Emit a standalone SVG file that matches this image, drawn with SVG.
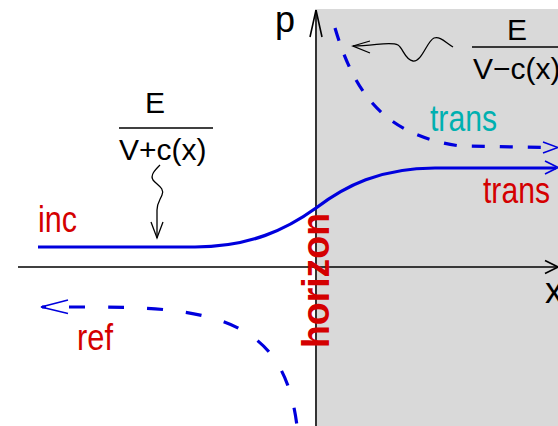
<svg xmlns="http://www.w3.org/2000/svg" width="558" height="426" viewBox="0 0 558 426">
<style>
text{font-family:"Liberation Sans",Arial,sans-serif;font-size:30px}
.lbl{font-size:37px}
.red{fill:#d40000}
.teal{fill:#00b0b0}
.blk{fill:#000}
.axis{stroke:#000;stroke-width:1.6;fill:none}
.thin{stroke:#000;stroke-width:1.3;fill:none}
.solid{stroke:#0000dd;stroke-width:3.2;fill:none}
.dash{stroke:#0000dd;stroke-width:3.2;fill:none}
.head{stroke:#0000dd;stroke-width:1.6;fill:none}
.frac{stroke:#000;stroke-width:1.5}
</style>
<rect id="region" x="317" y="9" width="241" height="417" fill="#d9d9d9"/>
<g id="axes">
<path class="axis" d="M18,267 L558,267"/>
<path class="axis" d="M545,260.5 L558,267 L545,273.5"/>
<path class="axis" d="M316,426 L316,10"/>
<path class="axis" d="M310,37 L316,10 L322,37"/>
<text x="275" y="32" class="blk" style="font-size:36px">p</text>
<text x="545" y="303" class="blk" style="font-size:36px">x</text>
</g>
<g id="connectors">
<path class="solid" d="M38,247 L195,247 C250,247 287,229 316,208 C345,186 380,168 435,168 L556,168"/>
<path class="head" d="M545,161 L558,167.5 L545,174"/>
<path class="dash" stroke-dasharray="13 15" d="M335,28 C355,95 385,135 460,146 L545,147.5"/>
<path class="head" d="M543,142 L558,147.5 L543,153"/>
<path class="dash" stroke-dasharray="16 23" stroke-dashoffset="-27" d="M42,307 L100,307 C230,307 285,330 297,426"/>
<path class="head" d="M68,300 L41,307 L68,313.5"/>
<path class="thin" d="M160,165 C155,170 150,175 153,180 C157,185 165,188 162,195 C160,200 157,203 157,210 L157,238"/>
<path class="thin" d="M151,222 L157,238 L163,222"/>
<path class="thin" d="M453,47 C445,42 440,36 434,38 C427,41 422,62 413,61 C405,60 403,48 398,45 C390,41 375,46 353,46"/>
<path class="thin" d="M370,41 L353,46 L370,53"/>
</g>
<g id="label-inc"><text x="38" y="232" class="red lbl" textLength="39" lengthAdjust="spacingAndGlyphs">inc</text></g>
<g id="label-ref"><text x="77" y="350" class="red lbl" textLength="36" lengthAdjust="spacingAndGlyphs">ref</text></g>
<g id="label-trans-red"><text x="483" y="203" class="red lbl" textLength="67" lengthAdjust="spacingAndGlyphs">trans</text></g>
<g id="label-trans-teal"><text x="430" y="131" class="teal lbl" textLength="67" lengthAdjust="spacingAndGlyphs">trans</text></g>
<g id="label-horizon"><text transform="translate(329,348) rotate(-90)" class="red" style="font-size:39px;font-weight:bold" textLength="135" lengthAdjust="spacingAndGlyphs">horizon</text></g>
<g id="frac-left">
<text x="145" y="113" class="blk">E</text>
<line class="frac" x1="119" y1="128" x2="213" y2="128"/>
<text x="119" y="160" class="blk">V+c(x)</text>
</g>
<g id="frac-right">
<text x="507" y="40" class="blk">E</text>
<line class="frac" x1="472" y1="47" x2="558" y2="47"/>
<text x="473" y="79" class="blk">V−c(x)</text>
</g>
</svg>
